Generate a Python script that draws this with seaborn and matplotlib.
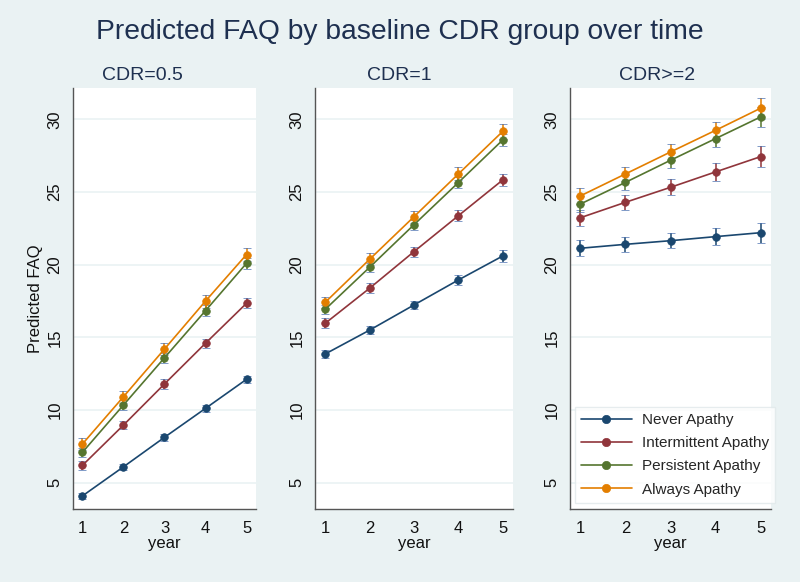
import numpy as np
import pandas as pd
import matplotlib
matplotlib.use("Agg")
import matplotlib.pyplot as plt
import seaborn as sns

# Datos
years = [1, 2, 3, 4, 5]
groups = ["Never Apathy", "Intermittent Apathy", "Persistent Apathy", "Always Apathy"]
panels = ["CDR=0.5", "CDR=1", "CDR>=2"]

cdr05_never = [4.1, 6.1, 8.13, 10.12, 12.12]
cdr05_inter = [6.2, 8.97, 11.8, 14.6, 17.35]
cdr05_pers = [7.1, 10.35, 13.6, 16.84, 20.1]
cdr05_always = [7.67, 10.92, 14.2, 17.5, 20.7]

cdr1_never = [13.86, 15.5, 17.23, 18.95, 20.6]
cdr1_inter = [15.97, 18.38, 20.9, 23.37, 25.83]
cdr1_pers = [16.93, 19.82, 22.75, 25.65, 28.58]
cdr1_always = [17.41, 20.37, 23.3, 26.24, 29.17]

cdr2_never = [21.13, 21.4, 21.65, 21.93, 22.2]
cdr2_inter = [23.23, 24.29, 25.32, 26.38, 27.43]
cdr2_pers = [24.17, 25.66, 27.18, 28.67, 30.16]
cdr2_always = [24.73, 26.24, 27.75, 29.24, 30.76]

# semi-amplitud del IC 95%
cdr05_ci = [[0.2, 0.22, 0.22, 0.24, 0.26],
            [0.3, 0.3, 0.32, 0.32, 0.34],
            [0.3, 0.32, 0.34, 0.36, 0.38],
            [0.38, 0.4, 0.42, 0.45, 0.48]]
cdr1_ci = [[0.3, 0.3, 0.3, 0.35, 0.42],
           [0.33, 0.33, 0.35, 0.38, 0.42],
           [0.33, 0.33, 0.35, 0.38, 0.42],
           [0.4, 0.4, 0.42, 0.45, 0.5]]
cdr2_ci = [[0.55, 0.5, 0.52, 0.58, 0.68],
           [0.55, 0.52, 0.55, 0.6, 0.7],
           [0.53, 0.5, 0.52, 0.58, 0.68],
           [0.53, 0.5, 0.52, 0.6, 0.72]]

values = {
    "CDR=0.5": [cdr05_never, cdr05_inter, cdr05_pers, cdr05_always],
    "CDR=1": [cdr1_never, cdr1_inter, cdr1_pers, cdr1_always],
    "CDR>=2": [cdr2_never, cdr2_inter, cdr2_pers, cdr2_always],
}
cis = {"CDR=0.5": cdr05_ci, "CDR=1": cdr1_ci, "CDR>=2": cdr2_ci}

rows = []
for p in panels:
    for g, vals, ci in zip(groups, values[p], cis[p]):
        for y, v, c in zip(years, vals, ci):
            rows.append({"panel": p, "group": g, "year": y, "faq": v, "ci": c})
df = pd.DataFrame(rows)

colores = ["#1a476f", "#90353b", "#55752f", "#e37e00"]
palette = dict(zip(groups, colores))
bg = "#eaf2f3"
titulo_col = "#1e3050"

sns.set_theme(style="white")
plt.rcParams["font.family"] = ["Liberation Sans", "DejaVu Sans"]

fig = plt.figure(figsize=(8, 5.82), dpi=100, facecolor=bg)
W, H = 800, 582
bordes = [(73, 256), (315, 513), (570, 771)]
centros_sub = [142, 399, 657]
top, bottom = 88, 509

for i, (p, (l, r)) in enumerate(zip(panels, bordes)):
    ax = fig.add_axes([l / W, (H - bottom) / H, (r - l) / W, (bottom - top) / H])
    ax.set_facecolor("white")
    sub = df[df["panel"] == p]
    for g in groups:
        d = sub[sub["group"] == g]
        ax.errorbar(d["year"], d["faq"], yerr=d["ci"], fmt="none",
                    ecolor=palette[g], elinewidth=1.1, capsize=2.8, capthick=1.1, zorder=2)
    sns.lineplot(data=sub, x="year", y="faq", hue="group", hue_order=groups,
                 palette=palette, marker="o", markersize=5.5,
                 linewidth=1.2, ax=ax, legend=(i == 2), zorder=3)
    for ln in ax.lines:
        ln.set_markeredgecolor(ln.get_color())
        ln.set_markeredgewidth(0.5)
    ax.set_xlim(0.77, 5.23)
    ax.set_ylim(3.2, 32.15)
    ax.set_xticks(years)
    ax.set_yticks([5, 10, 15, 20, 25, 30])
    ax.yaxis.grid(True, color=bg, linewidth=1.2)
    ax.set_axisbelow(True)
    for s in ["top", "right"]:
        ax.spines[s].set_visible(False)
    for s in ["left", "bottom"]:
        ax.spines[s].set_color("#555555")
        ax.spines[s].set_linewidth(1.0)
    ax.tick_params(axis="both", direction="out", length=5, width=1, color="#555555",
                   labelsize=12, labelcolor="#111111")
    ax.tick_params(axis="y", pad=2.5)
    for t in ax.get_yticklabels():
        t.set_rotation(90)
        t.set_va("center")
    ax.set_xlabel("year", fontsize=12, labelpad=0, color="#111111")
    ax.set_ylabel("Predicted FAQ" if i == 0 else "", fontsize=12, labelpad=3,
                  color="#111111")
    fig.text(centros_sub[i] / W, 1 - 75 / H, p, ha="center", va="center",
             fontsize=14, color=titulo_col)
    if i == 2:
        leg = ax.legend(loc="lower left", bbox_to_anchor=(0.025, 0.015), fontsize=11,
                        frameon=True, fancybox=False, handlelength=3.3,
                        handletextpad=0.7, labelspacing=0.6, borderpad=0.4,
                        borderaxespad=0, title=None)
        leg.get_frame().set_edgecolor("#e0e8ea")
        leg.get_frame().set_linewidth(1.0)
        for h in leg.get_lines():
            h.set_markeredgecolor(h.get_color())
            h.set_markersize(6)

fig.text(0.5, 1 - 32 / H, "Predicted FAQ by baseline CDR group over time",
         ha="center", va="center", fontsize=20.3, color=titulo_col)

fig.savefig("out.png", dpi=100, facecolor=bg)
